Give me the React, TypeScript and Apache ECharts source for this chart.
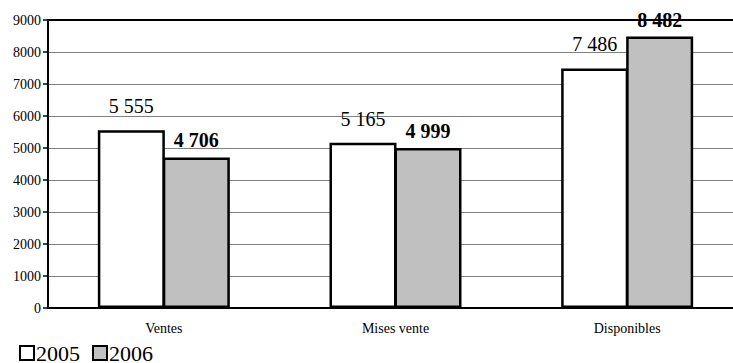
import React, { useEffect, useRef } from "react";
import * as echarts from "echarts";

const categories = ["Ventes", "Mises vente", "Disponibles"];
const values2005 = [5555, 5165, 7486];
const values2006 = [4706, 4999, 8482];
const seriesNames = ["2005", "2006"];
const yMin = 0;
const yMax = 9000;
const yInterval = 1000;

const fmt = (v: number) => String(v).replace(/\B(?=(\d{3})+(?!\d))/g, " ");

export default function App() {
  const ref = useRef<HTMLDivElement>(null);
  useEffect(() => {
    if (!ref.current) return;
    const chart = echarts.init(ref.current, undefined, { renderer: "svg" });
    const serif = "Liberation Serif";
    chart.setOption({
      animation: false,
      backgroundColor: "#ffffff",
      grid: {
        left: 48,
        top: 20,
        width: 695,
        height: 288,
        containLabel: false,
        outerBoundsMode: "none",
      },
      legend: {
        left: 14,
        top: 337,
        itemWidth: 14,
        itemHeight: 14,
        itemGap: 12,
        icon: "rect",
        itemStyle: { borderColor: "#000", borderWidth: 2 },
        textStyle: {
          fontFamily: serif,
          fontSize: 22,
          lineHeight: 20,
          color: "#000",
          padding: [0, 0, 0, -3],
        },
        data: seriesNames,
      },
      xAxis: [
        {
          type: "category",
          data: categories,
          axisLine: { show: true, lineStyle: { color: "#000", width: 2 } },
          axisTick: { show: false },
          axisLabel: { fontFamily: serif, fontSize: 14, color: "#000", margin: 13 },
        },
        {
          type: "category",
          position: "top",
          data: categories,
          axisLine: { show: true, lineStyle: { color: "#000", width: 2 } },
          axisTick: { show: false },
          axisLabel: { show: false },
        },
      ],
      yAxis: {
        type: "value",
        min: yMin,
        max: yMax,
        interval: yInterval,
        axisLine: { show: true, lineStyle: { color: "#000", width: 2 } },
        axisTick: { show: true, length: 5, lineStyle: { color: "#000", width: 1.5 } },
        axisLabel: {
          fontFamily: serif,
          fontSize: 14,
          color: "#000",
          margin: 7,
          formatter: (v: number) => String(v),
        },
        splitLine: { show: true, lineStyle: { color: "#808080", width: 1 } },
      },
      series: [
        {
          name: seriesNames[0],
          type: "bar",
          data: values2005,
          barWidth: 67,
          barGap: "-3%",
          itemStyle: { color: "#ffffff", borderColor: "#000", borderWidth: 2.5 },
          label: {
            show: true,
            position: "top",
            distance: 14,
            fontFamily: serif,
            fontSize: 20,
            color: "#000",
            formatter: (p: any) => fmt(p.value),
          },
        },
        {
          name: seriesNames[1],
          type: "bar",
          data: values2006,
          barWidth: 67,
          barGap: "-3%",
          itemStyle: { color: "#c0c0c0", borderColor: "#000", borderWidth: 2.5 },
          label: {
            show: true,
            position: "top",
            distance: 7,
            fontFamily: serif,
            fontSize: 20,
            fontWeight: "bold",
            color: "#000",
            formatter: (p: any) => fmt(p.value),
          },
        },
      ],
    });
    return () => chart.dispose();
  }, []);
  return (
    <div
      ref={ref}
      style={{ position: "absolute", left: 0, top: 0, width: 733, height: 363 }}
    />
  );
}
